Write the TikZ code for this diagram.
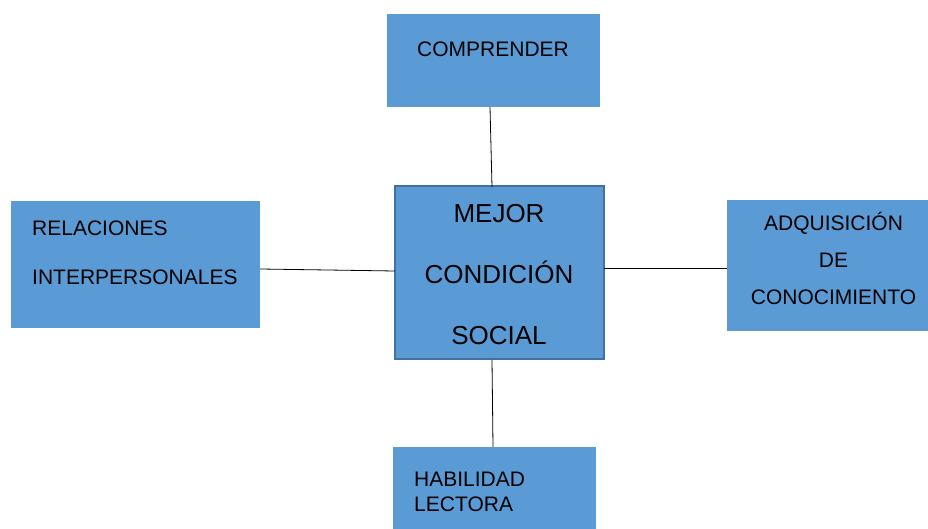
\documentclass[tikz,border=0pt]{standalone}
\usepackage{fontspec}
\setmainfont{Liberation Sans}
\definecolor{boxblue}{HTML}{5B9BD5}
\definecolor{edgeblue}{HTML}{41719C}
\begin{document}
\begin{tikzpicture}[x=1pt,y=1pt]
		\tikzstyle box_style=[fill=boxblue,draw=none,inner sep=0pt];
		\tikzstyle txt_style=[inner sep=0pt,font=\fontsize{21}{25}\selectfont];
		\tikzstyle link_style=[black,line width=0.8pt];
		\useasboundingbox (0,0) rectangle (928,-529);

		%DRAW THE BOXES
		\node[box_style,minimum width=213pt,minimum height=93pt] (comp) at (493.5,-60.5) {};
		\node[box_style,draw=edgeblue,line width=2pt,minimum width=209pt,minimum height=173pt] (mejor) at (499.5,-272.5) {};
		\node[box_style,minimum width=249pt,minimum height=127pt] (rel) at (135.5,-264.5) {};
		\node[box_style,minimum width=201pt,minimum height=131pt] (adq) at (827.5,-265.5) {};
		\node[box_style,minimum width=203pt,minimum height=82pt] (hab) at (494.5,-488) {};

		%TEXTS
		\node[txt_style,anchor=west] (comptxt) at (417,-49) {COMPRENDER};
		\node[txt_style,align=center,font=\fontsize{26}{61}\selectfont] (mejortxt) at (499,-274.5) {MEJOR\\CONDICIÓN\\SOCIAL};
		\node[txt_style,align=left,anchor=west,font=\fontsize{21}{49}\selectfont] (reltxt) at (32,-252.5) {RELACIONES\\INTERPERSONALES};
		\node[txt_style,align=center,font=\fontsize{21}{37}\selectfont] (adqtxt) at (833.5,-258) {ADQUISICIÓN\\DE\\CONOCIMIENTO};
		\node[txt_style,align=left,anchor=west] (habtxt) at (414,-491.5) {HABILIDAD\\LECTORA};

		%CONNECTING LINES
		\draw[link_style] ([xshift=-3.5pt]comp.south) -- ([xshift=-7.5pt,yshift=-2pt]mejor.north);
		\draw[link_style] ([yshift=-4.5pt]rel.east) -- ([xshift=1pt,yshift=1.5pt]mejor.west);
		\draw[link_style] ([xshift=-1pt,yshift=4.5pt]mejor.east) -- ([yshift=-2.5pt]adq.west);
		\draw[link_style] ([xshift=-7.5pt]mejor.south) -- ([xshift=-1.5pt]hab.north);
\end{tikzpicture}
\end{document}
